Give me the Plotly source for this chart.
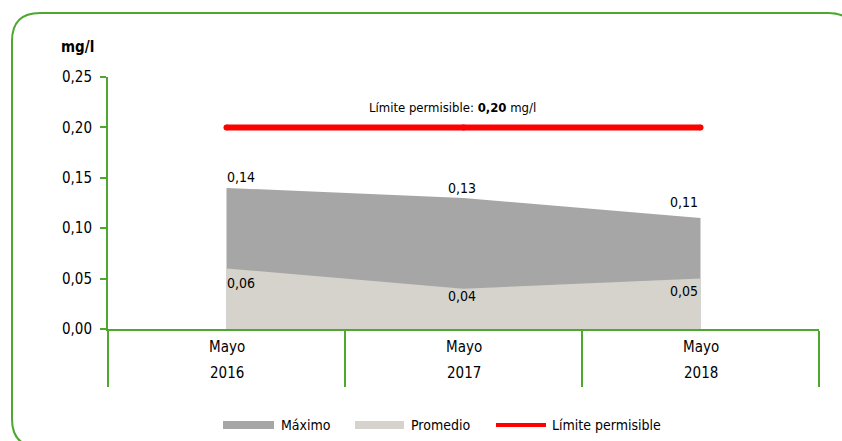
import plotly.graph_objects as go

# --- data ---
months = ["Mayo", "Mayo", "Mayo"]
years = ["2016", "2017", "2018"]
maximo = [0.14, 0.13, 0.11]
promedio = [0.06, 0.04, 0.05]
limite = [0.20, 0.20, 0.20]
y_ticks = [0.00, 0.05, 0.10, 0.15, 0.20, 0.25]

W, H = 842, 441
L, R, T, B = 108, 23, 77, 112          # plot margins (px)
PW, PH = W - L - R, H - T - B

GREEN = "#4ea72e"
GRAY_MAX = "#a6a6a6"
GRAY_AVG = "#d6d3cc"
RED = "#ff0000"
FONT = "Liberation Sans Narrow, DejaVu Sans Condensed, Arial Narrow, Arial, sans-serif"


def px_x(px):
    return (px - L) / PW


def px_y(py):
    return (H - B - py) / PH


def fmt(v):
    return f"{v:.2f}".replace(".", ",")


xs = list(range(len(years)))

fig = go.Figure()
fig.add_trace(go.Scatter(x=xs, y=maximo, name="Máximo", mode="lines",
                         line=dict(width=0, color=GRAY_MAX), fill="tozeroy",
                         fillcolor=GRAY_MAX, showlegend=False, hoverinfo="skip"))
fig.add_trace(go.Scatter(x=xs, y=promedio, name="Promedio", mode="lines",
                         line=dict(width=0, color=GRAY_AVG), fill="tozeroy",
                         fillcolor=GRAY_AVG, showlegend=False, hoverinfo="skip"))
fig.add_trace(go.Scatter(x=xs, y=limite, name="Límite permisible", mode="lines+markers",
                         line=dict(width=6, color=RED), marker=dict(size=6, color=RED),
                         showlegend=False, hoverinfo="skip"))

annotations = []
# value labels
max_offsets = [(14, -11), (-2, -10), (-17, -16)]
avg_offsets = [(14, 14), (-2, 7), (-17, 12)]
for i in xs:
    dx, dy = max_offsets[i]
    annotations.append(dict(x=i, y=maximo[i], text=fmt(maximo[i]), showarrow=False,
                            xshift=dx, yshift=-dy, font=dict(size=14, color="#000", family=FONT)))
    dx, dy = avg_offsets[i]
    annotations.append(dict(x=i, y=promedio[i], text=fmt(promedio[i]), showarrow=False,
                            xshift=dx, yshift=-dy, font=dict(size=14, color="#000", family=FONT)))

# category labels (two lines, wide spacing)
for i in xs:
    annotations.append(dict(x=i, xref="x", yref="paper", y=px_y(347), yanchor="middle",
                            text=months[i], showarrow=False,
                            font=dict(size=15, color="#000", family=FONT)))
    annotations.append(dict(x=i, xref="x", yref="paper", y=px_y(373), yanchor="middle",
                            text=years[i], showarrow=False,
                            font=dict(size=15, color="#000", family=FONT)))

annotations.append(dict(x=1, y=limite[1], text=f"Límite permisible: <b>{fmt(limite[1])}</b> mg/l",
                        showarrow=False, yshift=20, xshift=-11,
                        font=dict(size=13, color="#000", family=FONT)))
annotations.append(dict(xref="paper", yref="paper", x=px_x(77), y=px_y(47),
                        xanchor="center", yanchor="middle", text="<b>mg/l</b>",
                        showarrow=False, font=dict(size=15, color="#000", family=FONT)))

shapes = []
# rounded frame
x0, x1, y0, y1, r = 12, 856, 13, 447, 28
path = (f"M {px_x(x0)},{px_y(y0 + r)} "
        f"Q {px_x(x0)},{px_y(y0)} {px_x(x0 + r)},{px_y(y0)} "
        f"L {px_x(x1 - r)},{px_y(y0)} "
        f"Q {px_x(x1)},{px_y(y0)} {px_x(x1)},{px_y(y0 + r)} "
        f"L {px_x(x1)},{px_y(y1 - r)} "
        f"Q {px_x(x1)},{px_y(y1)} {px_x(x1 - r)},{px_y(y1)} "
        f"L {px_x(x0 + r)},{px_y(y1)} "
        f"Q {px_x(x0)},{px_y(y1)} {px_x(x0)},{px_y(y1 - r)} Z")
shapes.append(dict(type="path", xref="paper", yref="paper", path=path,
                   line=dict(color=GREEN, width=2), layer="below"))

# legend
leg_y = 425
legend_items = [
    ("Máximo", 223, 274, 279, "rect", GRAY_MAX),
    ("Promedio", 355, 404, 409, "rect", GRAY_AVG),
    ("Límite permisible", 496, 546, 550, "line", RED),
]
for label, sx0, sx1, tx, kind, color in legend_items:
    if kind == "rect":
        shapes.append(dict(type="rect", xref="paper", yref="paper",
                           x0=px_x(sx0), x1=px_x(sx1), y0=px_y(leg_y + 4), y1=px_y(leg_y - 4),
                           fillcolor=color, line=dict(width=0)))
    else:
        shapes.append(dict(type="line", xref="paper", yref="paper",
                           x0=px_x(sx0), x1=px_x(sx1), y0=px_y(leg_y), y1=px_y(leg_y),
                           line=dict(color=color, width=4)))
    annotations.append(dict(xref="paper", yref="paper", x=px_x(tx), y=px_y(leg_y), text=label,
                            xanchor="left", yanchor="middle", showarrow=False,
                            font=dict(size=14, color="#000", family=FONT)))

fig.update_layout(
    width=W, height=H,
    margin=dict(l=L, r=R, t=T, b=B),
    paper_bgcolor="white", plot_bgcolor="white",
    separators=", ",
    showlegend=False,
    font=dict(family=FONT, size=15, color="#000"),
    annotations=annotations,
    shapes=shapes,
    xaxis=dict(range=[-0.5, 2.5], tickvals=xs, showticklabels=False, ticks="",
               showgrid=False, zeroline=False, showline=True, linecolor=GREEN, linewidth=2,
               minor=dict(tick0=-0.5, dtick=1, ticks="outside", ticklen=56,
                          tickcolor=GREEN, tickwidth=2, showgrid=False),
               fixedrange=True),
    yaxis=dict(range=[0, 0.25], tickvals=y_ticks, tickformat=".2f",
               ticks="outside", ticklen=6, tickcolor=GREEN, tickwidth=2,
               showgrid=False, zeroline=False, showline=True, linecolor=GREEN, linewidth=2,
               tickfont=dict(size=15, family=FONT, color="#000"), ticklabelstandoff=5,
               fixedrange=True),
)

fig.write_html("out.html", config={"displayModeBar": False})
